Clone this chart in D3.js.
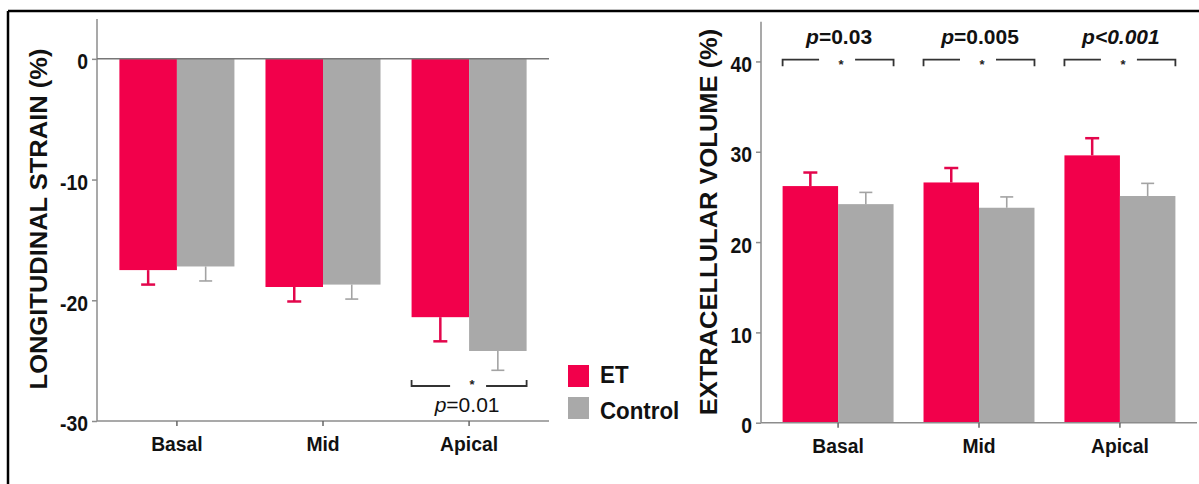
<!DOCTYPE html>
<html>
<head>
<meta charset="utf-8">
<script src="https://d3js.org/d3.v7.min.js"></script>
<style>
  body { margin: 0; background: #fff; }
  text { font-family: "Liberation Sans", Arial, sans-serif; fill: #111; }
</style>
</head>
<body>
<script>
// data
const segments = ['Basal', 'Mid', 'Apical'];
const groups = ['ET', 'Control'];

const strainET = [-17.5, -18.9, -21.4];
const strainETerr = [-18.7, -20.1, -23.4];
const strainCtl = [-17.2, -18.7, -24.2];
const strainCtlErr = [-18.4, -19.9, -25.8];

const ecvET = [26.2, 26.6, 29.6];
const ecvETerr = [27.7, 28.2, 31.5];
const ecvCtl = [24.2, 23.8, 25.1];
const ecvCtlErr = [25.5, 25.0, 26.5];

const strainTicks = [0, -10, -20, -30];
const ecvTicks = [0, 10, 20, 30, 40];

// significance labels
const strainSig = [{seg: 'Apical', label: ['p', '=0.01']}];
const ecvSig = [
  {seg: 'Basal', label: ['p', '=0.03']},
  {seg: 'Mid', label: ['p', '=0.005']},
  {seg: 'Apical', label: ['p', '<0.001'], allItalic: true}
];

const colors = {ET: '#f2004b', Control: '#a9a9a9'};
const errColors = {ET: '#e3064c', Control: '#a3a3a3'};
const axisColor = '#8c8c8c';

const width = 1199, height = 484;
const svg = d3.select('body').append('svg').attr('width', width).attr('height', height);

// frame (only top and left edges visible in the crop)
svg.append('line').attr('x1', 8).attr('x2', width).attr('y1', 11).attr('y2', 11)
  .attr('stroke', '#000').attr('stroke-width', 2.5);
svg.append('line').attr('x1', 8).attr('x2', 8).attr('y1', 11).attr('y2', height)
  .attr('stroke', '#000').attr('stroke-width', 2.5);

function squishText(sel, x, y, sx) {
  sel.attr('transform', `translate(${x},${y}) scale(${sx},1)`);
}

function drawChart(cfg) {
  const g = svg.append('g');
  const x0 = d3.scaleBand(segments, [cfg.left, cfg.right]).paddingInner(0).paddingOuter(0.047);
  const x1 = d3.scaleBand(groups, [0, x0.step()]).paddingInner(0).paddingOuter(0.27);
  const y = d3.scaleLinear(cfg.domain, cfg.range);

  const rows = segments.map((s, i) => ({
    seg: s,
    ET: {v: cfg.et[i], e: cfg.etErr[i]},
    Control: {v: cfg.ctl[i], e: cfg.ctlErr[i]}
  }));

  // bars
  const grp = g.selectAll('g.seg').data(rows).join('g')
    .attr('transform', d => `translate(${x0(d.seg)},0)`);
  grp.selectAll('rect').data(d => groups.map(k => ({k, ...d[k]}))).join('rect')
    .attr('x', d => x1(d.k))
    .attr('width', x1.bandwidth())
    .attr('y', d => Math.min(y(0), y(d.v)))
    .attr('height', d => Math.abs(y(d.v) - y(0)))
    .attr('fill', d => colors[d.k]);

  // error bars
  const eb = grp.selectAll('g.err').data(d => groups.map(k => ({k, ...d[k]}))).join('g')
    .attr('class', 'err');
  eb.append('line')
    .attr('x1', d => x1(d.k) + x1.bandwidth() / 2)
    .attr('x2', d => x1(d.k) + x1.bandwidth() / 2)
    .attr('y1', d => y(d.v)).attr('y2', d => y(d.e))
    .attr('stroke', d => errColors[d.k])
    .attr('stroke-width', d => d.k === 'ET' ? 2.5 : 1.6);
  eb.append('line')
    .attr('x1', d => x1(d.k) + x1.bandwidth() / 2 - (d.k === 'ET' ? 7 : 6.5))
    .attr('x2', d => x1(d.k) + x1.bandwidth() / 2 + (d.k === 'ET' ? 7 : 6.5))
    .attr('y1', d => y(d.e)).attr('y2', d => y(d.e))
    .attr('stroke', d => errColors[d.k])
    .attr('stroke-width', d => d.k === 'ET' ? 2.5 : 1.6);

  // y axis
  const yAxis = g.append('g').attr('transform', `translate(${cfg.left},0)`)
    .call(d3.axisLeft(y).tickValues(cfg.ticks).tickFormat(d => String(d))
      .tickSize(5).tickPadding(4).tickSizeOuter(0));
  yAxis.select('.domain').remove();
  yAxis.selectAll('.tick line').attr('stroke', axisColor).attr('stroke-width', 1.5);
  yAxis.selectAll('.tick text')
    .attr('font-size', 22).attr('font-weight', 'bold').attr('fill', '#111')
    .attr('x', 0).attr('dy', 0)
    .each(function() {
      d3.select(this).attr('dominant-baseline', 'central');
      squishText(d3.select(this), -9, 2, 0.88);
    });
  g.append('line').attr('x1', cfg.left).attr('x2', cfg.left)
    .attr('y1', y(cfg.domain[1])).attr('y2', y(cfg.domain[0]))
    .attr('stroke', axisColor).attr('stroke-width', 1.5);

  // zero line / baseline axis
  if (cfg.zeroLine) {
    g.append('line').attr('x1', cfg.left).attr('x2', cfg.right)
      .attr('y1', y(0)).attr('y2', y(0))
      .attr('stroke', '#777').attr('stroke-width', 1.5);
  }
  const xAxis = g.append('g').attr('transform', `translate(0,${y(cfg.ticks[cfg.baseIdx])})`)
    .call(d3.axisBottom(x0).tickSize(5).tickSizeOuter(0).tickPadding(8));
  xAxis.select('.domain').attr('stroke', axisColor).attr('stroke-width', 1.5)
    .attr('d', `M${cfg.left},0H${cfg.right}`);
  xAxis.selectAll('.tick line').attr('stroke', '#666').attr('stroke-width', 1.5);
  xAxis.selectAll('.tick text')
    .attr('font-size', 21).attr('font-weight', 'bold').attr('fill', '#111')
    .attr('y', 0).attr('dy', 0)
    .each(function() { squishText(d3.select(this), 0, 30, 0.92); });

  // axis title
  g.append('text')
    .attr('text-anchor', 'middle')
    .attr('font-size', 25.5).attr('font-weight', 'bold')
    .attr('transform', `translate(${cfg.titleX},${cfg.titleY}) scale(0.94,1) rotate(-90)`)
    .text(cfg.title);

  // significance brackets
  cfg.sig.forEach(s => {
    const xa = x0(s.seg) + x1('ET');
    const xb = x0(s.seg) + x1('Control') + x1.bandwidth();
    const cx = (xa + xb) / 2;
    const by = y(cfg.bracketAt);
    const hook = cfg.hook;
    const br = g.append('g').attr('fill', 'none').attr('stroke', '#333').attr('stroke-width', 1.8);
    br.append('path').attr('d', `M${xa},${by + hook}V${by}H${cx - 19}`);
    br.append('path').attr('d', `M${cx + 17},${by}H${xb}V${by + hook}`);
    g.append('text').attr('x', cx + 3).attr('y', by + cfg.starDy)
      .attr('text-anchor', 'middle').attr('font-size', 13).attr('font-weight', 'bold')
      .style('fill', '#222').text('*');
    const t = g.append('text').attr('x', cx + cfg.labelDx).attr('y', y(cfg.labelAt))
      .attr('text-anchor', 'middle').attr('font-size', 21)
      .attr('font-weight', cfg.labelWeight);
    t.append('tspan').attr('font-style', 'italic').text(s.label[0]);
    t.append('tspan').attr('font-style', s.allItalic ? 'italic' : 'normal').text(s.label[1]);
  });
}

// left: longitudinal strain
drawChart({
  left: 97, right: 549,
  domain: [-30, 3.3], range: [421, 19],
  ticks: strainTicks, baseIdx: 3, zeroLine: true,
  et: strainET, etErr: strainETerr, ctl: strainCtl, ctlErr: strainCtlErr,
  title: 'LONGITUDINAL STRAIN (%)', titleX: 47, titleY: 219,
  sig: strainSig, bracketAt: -27.1, hook: -6, starDy: 3.5, labelAt: -29.25, labelDx: -2,
  labelWeight: 'normal'
});

// right: extracellular volume
drawChart({
  left: 761, right: 1197,
  domain: [0, 44.4], range: [422.7, 21.7],
  ticks: ecvTicks, baseIdx: 0, zeroLine: false,
  et: ecvET, etErr: ecvETerr, ctl: ecvCtl, ctlErr: ecvCtlErr,
  title: 'EXTRACELLULAR VOLUME (%)', titleX: 717, titleY: 222,
  sig: ecvSig, bracketAt: 40.2, hook: 6.5, starDy: 9, labelAt: 41.97, labelDx: 1,
  labelWeight: 'bold'
});

// legend
const legend = svg.append('g');
groups.forEach((k, i) => {
  legend.append('rect').attr('x', 568).attr('y', 365 + i * 32)
    .attr('width', 21).attr('height', 22).attr('fill', colors[k]);
  const t = legend.append('text').attr('font-size', 24).attr('font-weight', 'bold').text(k);
  squishText(t, 600, 383 + i * 36, 0.93);
});
</script>
</body>
</html>
